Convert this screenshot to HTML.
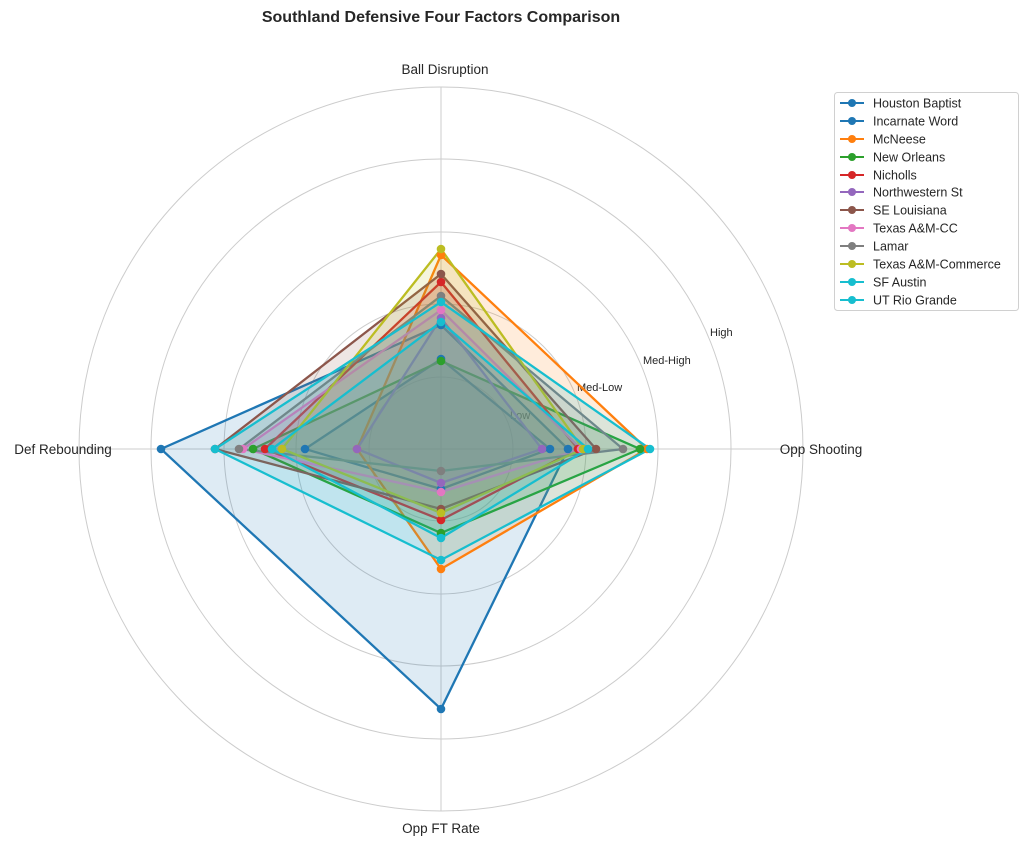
<!DOCTYPE html>
<html><head><meta charset="utf-8"><style>
html,body{margin:0;padding:0;background:#fff;}
svg{display:block;font-family:"Liberation Sans","DejaVu Sans",sans-serif;}
</style></head><body>
<svg width="1024" height="844" viewBox="0 0 1024 844">
<rect width="1024" height="844" fill="#fff"/>
<text x="441" y="22" text-anchor="middle" font-size="16" font-weight="bold" fill="#262626">Southland Defensive Four Factors Comparison</text>
<g fill="none" stroke="#cccccc" stroke-width="1">
<circle cx="441" cy="449" r="72"/><circle cx="441" cy="449" r="145"/><circle cx="441" cy="449" r="217"/><circle cx="441" cy="449" r="290"/><circle cx="441" cy="449" r="362"/>
<line x1="441" y1="449" x2="441" y2="87"/><line x1="441" y1="449" x2="803" y2="449"/><line x1="441" y1="449" x2="441" y2="811"/><line x1="441" y1="449" x2="79" y2="449"/>
</g>
<g font-size="11" fill="#262626">
<text x="510" y="419">Low</text><text x="577" y="391">Med-Low</text><text x="643" y="364">Med-High</text><text x="710" y="336">High</text>
</g>
<g font-size="13.5" fill="#262626" text-anchor="middle">
<text x="445" y="74">Ball Disruption</text>
<text x="821" y="454">Opp Shooting</text>
<text x="441" y="833">Opp FT Rate</text>
<text x="63" y="454">Def Rebounding</text>
</g>
<g stroke-width="2.3" fill-opacity="0.15" stroke-linejoin="miter">
<polygon points="441,325 568,449 441,709 161,449" fill="#1f77b4" stroke="#1f77b4"/>
<polygon points="441,359 550,449 441,489 305,449" fill="#1f77b4" stroke="#1f77b4"/>
<polygon points="441,255 647,449 441,569 357,449" fill="#ff7f0e" stroke="#ff7f0e"/>
<polygon points="441,361 640,449 441,533 253,449" fill="#2ca02c" stroke="#2ca02c"/>
<polygon points="441,282 578,449 441,520 265,449" fill="#d62728" stroke="#d62728"/>
<polygon points="441,318 542,449 441,483 357,449" fill="#9467bd" stroke="#9467bd"/>
<polygon points="441,274 596,449 441,509 215,449" fill="#8c564b" stroke="#8c564b"/>
<polygon points="441,310 581,449 441,492 243,449" fill="#e377c2" stroke="#e377c2"/>
<polygon points="441,296 623,449 441,471 239,449" fill="#7f7f7f" stroke="#7f7f7f"/>
<polygon points="441,249 583,449 441,513 282,449" fill="#bcbd22" stroke="#bcbd22"/>
<polygon points="441,302 650,449 441,560 215,449" fill="#17becf" stroke="#17becf"/>
<polygon points="441,322 588,449 441,538 272,449" fill="#17becf" stroke="#17becf"/>
</g>
<g>
<g fill="#1f77b4"><circle cx="441" cy="325" r="4.3"/><circle cx="568" cy="449" r="4.3"/><circle cx="441" cy="709" r="4.3"/><circle cx="161" cy="449" r="4.3"/></g>
<g fill="#1f77b4"><circle cx="441" cy="359" r="4.3"/><circle cx="550" cy="449" r="4.3"/><circle cx="441" cy="489" r="4.3"/><circle cx="305" cy="449" r="4.3"/></g>
<g fill="#ff7f0e"><circle cx="441" cy="255" r="4.3"/><circle cx="647" cy="449" r="4.3"/><circle cx="441" cy="569" r="4.3"/><circle cx="357" cy="449" r="4.3"/></g>
<g fill="#2ca02c"><circle cx="441" cy="361" r="4.3"/><circle cx="640" cy="449" r="4.3"/><circle cx="441" cy="533" r="4.3"/><circle cx="253" cy="449" r="4.3"/></g>
<g fill="#d62728"><circle cx="441" cy="282" r="4.3"/><circle cx="578" cy="449" r="4.3"/><circle cx="441" cy="520" r="4.3"/><circle cx="265" cy="449" r="4.3"/></g>
<g fill="#9467bd"><circle cx="441" cy="318" r="4.3"/><circle cx="542" cy="449" r="4.3"/><circle cx="441" cy="483" r="4.3"/><circle cx="357" cy="449" r="4.3"/></g>
<g fill="#8c564b"><circle cx="441" cy="274" r="4.3"/><circle cx="596" cy="449" r="4.3"/><circle cx="441" cy="509" r="4.3"/><circle cx="215" cy="449" r="4.3"/></g>
<g fill="#e377c2"><circle cx="441" cy="310" r="4.3"/><circle cx="581" cy="449" r="4.3"/><circle cx="441" cy="492" r="4.3"/><circle cx="243" cy="449" r="4.3"/></g>
<g fill="#7f7f7f"><circle cx="441" cy="296" r="4.3"/><circle cx="623" cy="449" r="4.3"/><circle cx="441" cy="471" r="4.3"/><circle cx="239" cy="449" r="4.3"/></g>
<g fill="#bcbd22"><circle cx="441" cy="249" r="4.3"/><circle cx="583" cy="449" r="4.3"/><circle cx="441" cy="513" r="4.3"/><circle cx="282" cy="449" r="4.3"/></g>
<g fill="#17becf"><circle cx="441" cy="302" r="4.3"/><circle cx="650" cy="449" r="4.3"/><circle cx="441" cy="560" r="4.3"/><circle cx="215" cy="449" r="4.3"/></g>
<g fill="#17becf"><circle cx="441" cy="322" r="4.3"/><circle cx="588" cy="449" r="4.3"/><circle cx="441" cy="538" r="4.3"/><circle cx="272" cy="449" r="4.3"/></g>
</g>
<rect x="834.5" y="92.5" width="184" height="218" rx="3" fill="#fff" stroke="#d0d0d0"/>
<g stroke-width="2">
<line x1="840" y1="103" x2="864" y2="103" stroke="#1f77b4"/><circle cx="852" cy="103" r="4" fill="#1f77b4"/>
<line x1="840" y1="121" x2="864" y2="121" stroke="#1f77b4"/><circle cx="852" cy="121" r="4" fill="#1f77b4"/>
<line x1="840" y1="139" x2="864" y2="139" stroke="#ff7f0e"/><circle cx="852" cy="139" r="4" fill="#ff7f0e"/>
<line x1="840" y1="157" x2="864" y2="157" stroke="#2ca02c"/><circle cx="852" cy="157" r="4" fill="#2ca02c"/>
<line x1="840" y1="175" x2="864" y2="175" stroke="#d62728"/><circle cx="852" cy="175" r="4" fill="#d62728"/>
<line x1="840" y1="192" x2="864" y2="192" stroke="#9467bd"/><circle cx="852" cy="192" r="4" fill="#9467bd"/>
<line x1="840" y1="210" x2="864" y2="210" stroke="#8c564b"/><circle cx="852" cy="210" r="4" fill="#8c564b"/>
<line x1="840" y1="228" x2="864" y2="228" stroke="#e377c2"/><circle cx="852" cy="228" r="4" fill="#e377c2"/>
<line x1="840" y1="246" x2="864" y2="246" stroke="#7f7f7f"/><circle cx="852" cy="246" r="4" fill="#7f7f7f"/>
<line x1="840" y1="264" x2="864" y2="264" stroke="#bcbd22"/><circle cx="852" cy="264" r="4" fill="#bcbd22"/>
<line x1="840" y1="282" x2="864" y2="282" stroke="#17becf"/><circle cx="852" cy="282" r="4" fill="#17becf"/>
<line x1="840" y1="300" x2="864" y2="300" stroke="#17becf"/><circle cx="852" cy="300" r="4" fill="#17becf"/>
</g>
<g font-size="12.5" fill="#262626">
<text x="873" y="107.5">Houston Baptist</text>
<text x="873" y="125.5">Incarnate Word</text>
<text x="873" y="143.5">McNeese</text>
<text x="873" y="161.5">New Orleans</text>
<text x="873" y="179.5">Nicholls</text>
<text x="873" y="196.5">Northwestern St</text>
<text x="873" y="214.5">SE Louisiana</text>
<text x="873" y="232.5">Texas A&amp;M-CC</text>
<text x="873" y="250.5">Lamar</text>
<text x="873" y="268.5">Texas A&amp;M-Commerce</text>
<text x="873" y="286.5">SF Austin</text>
<text x="873" y="304.5">UT Rio Grande</text>
</g>
</svg>
</body></html>
